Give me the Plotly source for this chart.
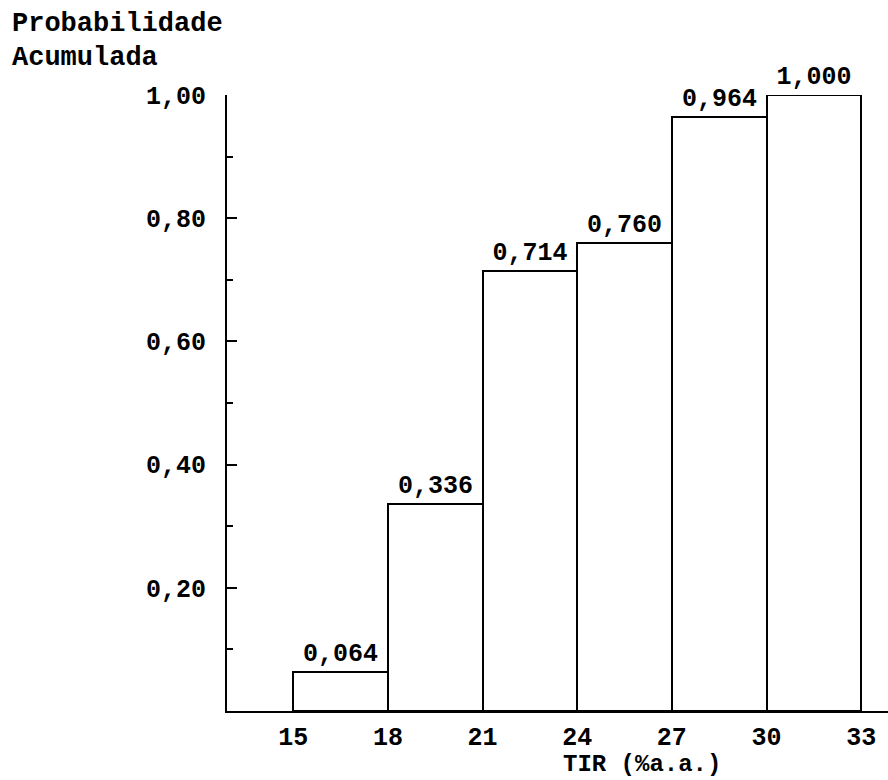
import plotly.graph_objects as go

# Cumulative probability of the IRR (TIR) by class interval
bin_left = [15, 18, 21, 24, 27, 30]
bin_width = 3
prob_acum = [0.064, 0.336, 0.714, 0.760, 0.964, 1.000]

x_ticks = [15, 18, 21, 24, 27, 30, 33]
y_ticks = [0.20, 0.40, 0.60, 0.80, 1.00]
y_ticklabels = ["0,20", "0,40", "0,60", "0,80", "1,00"]

FONT = "Liberation Mono, Courier New, monospace"
W, H = 888, 780
ML, MR, MT, MB = 227, 0, 95, 69

bar_centers = [b + bin_width / 2 for b in bin_left]
bar_text = [f"{v:.3f}".replace(".", ",") for v in prob_acum]

fig = go.Figure(
    go.Bar(
        x=bar_centers,
        y=prob_acum,
        width=[bin_width] * len(bin_left),
        marker=dict(color="white", line=dict(color="black", width=2)),
        text=bar_text,
        textposition="outside",
        constraintext="none",
        cliponaxis=False,
        textfont=dict(family=FONT, size=25, color="black", weight="bold"),
        hoverinfo="skip",
    )
)


def px_to_paper_x(px):
    return (px - ML) / (W - ML - MR)


def px_to_paper_y(py):
    return 1 - (py - MT) / (H - MT - MB)


def label(text, px, py, size, anchor="left"):
    return dict(
        text=text,
        xref="paper",
        yref="paper",
        x=px_to_paper_x(px),
        y=px_to_paper_y(py),
        xanchor=anchor,
        yanchor="middle",
        showarrow=False,
        font=dict(family=FONT, size=size, color="black", weight="bold"),
    )


fig.update_layout(
    width=W,
    height=H,
    margin=dict(l=ML, r=MR, t=MT, b=MB),
    plot_bgcolor="white",
    paper_bgcolor="white",
    showlegend=False,
    bargap=0,
    font=dict(family=FONT, color="black"),
    xaxis=dict(
        range=[12.9, 33.85],
        tickvals=x_ticks,
        ticktext=[str(t) for t in x_ticks],
        showgrid=False,
        zeroline=False,
        showline=True,
        linecolor="black",
        linewidth=2,
        ticks="",
        ticklabelstandoff=2,
        tickfont=dict(family=FONT, size=25, color="black", weight="bold"),
    ),
    yaxis=dict(
        range=[0, 1.0],
        tickvals=y_ticks,
        ticktext=y_ticklabels,
        showgrid=False,
        zeroline=False,
        showline=True,
        linecolor="black",
        linewidth=2,
        ticks="inside",
        ticklen=10,
        tickwidth=2,
        tickcolor="black",
        ticklabelstandoff=14,
        tickfont=dict(family=FONT, size=25, color="black", weight="bold"),
        minor=dict(
            tickvals=[0.1, 0.3, 0.5, 0.7, 0.9],
            ticks="inside",
            ticklen=6,
            tickwidth=1.5,
            tickcolor="black",
        ),
    ),
    annotations=[
        label("Probabilidade", 10, 24, 27),
        label("Acumulada", 10, 58, 27),
        label("TIR (%a.a.)", 642, 764, 24, anchor="center"),
    ],
)

fig.write_html("out.html")
